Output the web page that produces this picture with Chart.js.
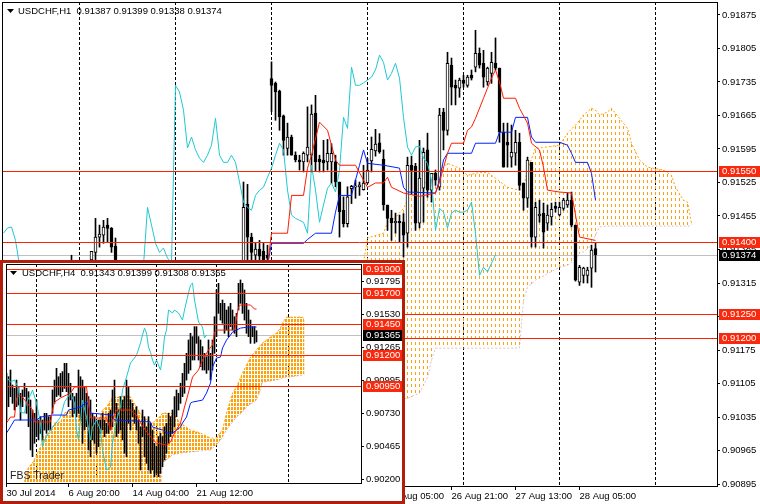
<!DOCTYPE html>
<html>
<head>
<meta charset="utf-8">
<title>USDCHF H1 / H4 Ichimoku</title>
<script src="https://cdn.jsdelivr.net/npm/chart.js@4.4.1/dist/chart.umd.min.js"></script>
<style>
  html, body { margin: 0; padding: 0; background: #fff; }
  #wrap { position: relative; width: 760px; height: 504px; overflow: hidden; }
  canvas { display: block; }
  #mainChart { position: absolute; left: 0; top: 0; }
  #inset { position: absolute; left: 0; top: 260px; width: 399px; height: 238px;
           border: 3px solid #b51d0b; background: #fff; }
</style>
</head>
<body>
<div id="wrap">
  <canvas id="mainChart" width="760" height="504"></canvas>
  <div id="inset"><canvas id="insetChart" width="399" height="238"></canvas></div>
</div>
<script>
// ---------- H1 main chart data ----------
const mainBarIdx = [17, 22, 23, 24, 25, 26, 27, 28,
  60, 61, 62, 63, 64, 65, 66, 67, 68, 69, 70, 71, 72, 73, 74, 75, 76, 77, 78, 79,
  80, 81, 82, 83, 84, 85, 86, 87, 88, 89, 90, 91, 92, 93, 94, 95, 96, 97, 98, 99,
  100, 101, 102, 103, 104, 105, 106, 107, 108, 109, 110, 111, 112, 113, 114, 115, 116, 117, 118, 119,
  120, 121, 122, 123, 124, 125, 126, 127, 128, 129, 130, 131, 132, 133, 134, 135, 136, 137, 138, 139,
  140, 141, 142, 143, 144, 145, 146, 147, 148];
const mainOpen = [0.91355, 0.91363, 0.91379, 0.91411, 0.91415, 0.91436, 0.91429, 0.91392,
  0.91330, 0.91480, 0.91411, 0.91373, 0.91386, 0.91381, 0.91373, 0.91742, 0.91732, 0.91716, 0.91664, 0.91596,
  0.91620, 0.91582, 0.91572, 0.91568, 0.91582, 0.91582, 0.91670, 0.91574, 0.91572, 0.91568,
  0.91568, 0.91568, 0.91526, 0.91467, 0.91439, 0.91512, 0.91515, 0.91516, 0.91510, 0.91524,
  0.91570, 0.91591, 0.91608, 0.91574, 0.91478, 0.91450, 0.91441, 0.91444, 0.91443, 0.91419,
  0.91561, 0.91559, 0.91440, 0.91513, 0.91593, 0.91509, 0.91544, 0.91515, 0.91672, 0.91634,
  0.91770, 0.91728, 0.91722, 0.91739, 0.91728, 0.91749, 0.91766, 0.91795, 0.91774, 0.91735,
  0.91753, 0.91774, 0.91764, 0.91630, 0.91609, 0.91578, 0.91586, 0.91609, 0.91524, 0.91492,
  0.91567, 0.91411, 0.91455, 0.91461, 0.91440, 0.91453, 0.91475, 0.91457, 0.91471, 0.91478,
  0.91488, 0.91436, 0.91317, 0.91331, 0.91331, 0.91346, 0.91387];
const mainHigh = [0.91373, 0.91381, 0.91450, 0.91436, 0.91446, 0.91450, 0.91431, 0.91409,
  0.91526, 0.91521, 0.91419, 0.91398, 0.91404, 0.91400, 0.91394, 0.91777, 0.91735, 0.91718, 0.91666, 0.91649,
  0.91624, 0.91589, 0.91582, 0.91589, 0.91683, 0.91687, 0.91707, 0.91582, 0.91613, 0.91615,
  0.91606, 0.91582, 0.91526, 0.91495, 0.91516, 0.91519, 0.91530, 0.91526, 0.91561, 0.91575,
  0.91620, 0.91636, 0.91627, 0.91593, 0.91478, 0.91467, 0.91461, 0.91457, 0.91460, 0.91578,
  0.91580, 0.91565, 0.91613, 0.91597, 0.91628, 0.91544, 0.91551, 0.91680, 0.91680, 0.91797,
  0.91785, 0.91739, 0.91743, 0.91749, 0.91749, 0.91760, 0.91843, 0.91806, 0.91801, 0.91766,
  0.91797, 0.91827, 0.91764, 0.91649, 0.91649, 0.91645, 0.91634, 0.91628, 0.91524, 0.91578,
  0.91567, 0.91484, 0.91488, 0.91482, 0.91478, 0.91482, 0.91484, 0.91484, 0.91492, 0.91503,
  0.91505, 0.91436, 0.91352, 0.91348, 0.91348, 0.91394, 0.91399];
const mainLow = [0.91330, 0.91340, 0.91358, 0.91390, 0.91398, 0.91400, 0.91379, 0.91330,
  0.91320, 0.91350, 0.91355, 0.91355, 0.91355, 0.91345, 0.91350, 0.91673, 0.91655, 0.91634, 0.91582, 0.91582,
  0.91582, 0.91568, 0.91551, 0.91547, 0.91568, 0.91547, 0.91549, 0.91547, 0.91547, 0.91551,
  0.91523, 0.91516, 0.91411, 0.91432, 0.91432, 0.91481, 0.91492, 0.91498, 0.91509, 0.91523,
  0.91547, 0.91580, 0.91586, 0.91467, 0.91425, 0.91404, 0.91419, 0.91401, 0.91369, 0.91390,
  0.91500, 0.91425, 0.91430, 0.91442, 0.91494, 0.91484, 0.91519, 0.91509, 0.91593, 0.91624,
  0.91687, 0.91687, 0.91703, 0.91724, 0.91724, 0.91739, 0.91756, 0.91764, 0.91724, 0.91728,
  0.91732, 0.91760, 0.91609, 0.91557, 0.91557, 0.91557, 0.91561, 0.91509, 0.91467, 0.91473,
  0.91390, 0.91390, 0.91442, 0.91388, 0.91425, 0.91436, 0.91463, 0.91455, 0.91467, 0.91473,
  0.91432, 0.91319, 0.91310, 0.91315, 0.91315, 0.91306, 0.91338];
const mainClose = [0.91350, 0.91381, 0.91411, 0.91417, 0.91432, 0.91429, 0.91390, 0.91350,
  0.91473, 0.91411, 0.91379, 0.91386, 0.91371, 0.91360, 0.91367, 0.91728, 0.91714, 0.91662, 0.91613, 0.91620,
  0.91582, 0.91572, 0.91568, 0.91586, 0.91599, 0.91668, 0.91568, 0.91568, 0.91566, 0.91586,
  0.91586, 0.91526, 0.91464, 0.91439, 0.91495, 0.91517, 0.91518, 0.91520, 0.91524, 0.91551,
  0.91594, 0.91605, 0.91589, 0.91478, 0.91450, 0.91441, 0.91444, 0.91441, 0.91415, 0.91561,
  0.91550, 0.91440, 0.91534, 0.91588, 0.91509, 0.91544, 0.91530, 0.91666, 0.91634, 0.91774,
  0.91724, 0.91722, 0.91739, 0.91732, 0.91745, 0.91743, 0.91795, 0.91770, 0.91745, 0.91764,
  0.91776, 0.91764, 0.91630, 0.91557, 0.91603, 0.91588, 0.91609, 0.91519, 0.91492, 0.91572,
  0.91411, 0.91473, 0.91459, 0.91421, 0.91457, 0.91469, 0.91471, 0.91473, 0.91488, 0.91488,
  0.91436, 0.91321, 0.91348, 0.91346, 0.91342, 0.91384, 0.91374];

// Ichimoku lines, [bar, price]
const mainTenkan = [[60, 0.91352], [66, 0.91352], [67, 0.91419], [71, 0.91419], [72, 0.91498], [75, 0.91498],
  [76, 0.91555], [77, 0.91582], [79, 0.91651], [81, 0.91634], [82, 0.91603], [83, 0.91572], [84, 0.91561],
  [88, 0.91561], [90, 0.91530], [91, 0.91515], [93, 0.91524], [95, 0.91524], [96, 0.91536], [97, 0.91515],
  [100, 0.91503], [104, 0.91496], [108, 0.91503], [109, 0.91526], [111, 0.91586], [112, 0.91607], [115, 0.91607],
  [116, 0.91634], [117, 0.91641], [118, 0.91659], [120, 0.91701], [121, 0.91722], [122, 0.91743], [123, 0.91760],
  [124, 0.91735], [125, 0.91701], [128, 0.91701], [129, 0.91680], [131, 0.91649], [132, 0.91607], [134, 0.91593],
  [135, 0.91557], [136, 0.91509], [139, 0.91505], [142, 0.91503], [143, 0.91457], [144, 0.91411], [148, 0.91404]];
const mainKijun = [[60, 0.91352], [66, 0.91352], [67, 0.91398], [75, 0.91398], [76, 0.91406], [78, 0.91419],
  [82, 0.91419], [83, 0.91463], [84, 0.91498], [87, 0.91498], [88, 0.91530], [89, 0.91561], [90, 0.91593],
  [91, 0.91565], [95, 0.91561], [99, 0.91555], [100, 0.91515], [101, 0.91505], [108, 0.91503], [109, 0.91530],
  [110, 0.91572], [111, 0.91586], [117, 0.91586], [118, 0.91607], [123, 0.91607], [124, 0.91630], [127, 0.91630],
  [128, 0.91661], [131, 0.91661], [132, 0.91620], [133, 0.91609], [139, 0.91609], [141, 0.91603], [142, 0.91586],
  [143, 0.91567], [146, 0.91567], [147, 0.91544], [148, 0.91488]];
const mainChikou = [[0, 0.91419], [1, 0.91430], [2, 0.91432], [3, 0.91404], [4, 0.91352], [35, 0.91352],
  [36, 0.91473], [37, 0.91436], [38, 0.91398], [39, 0.91379], [40, 0.91388], [41, 0.91367], [42, 0.91358],
  [43, 0.91728], [44, 0.91714], [45, 0.91676], [46, 0.91597], [47, 0.91620], [48, 0.91593], [49, 0.91576],
  [50, 0.91567], [51, 0.91582], [52, 0.91603], [53, 0.91659], [54, 0.91582], [55, 0.91567], [56, 0.91567],
  [57, 0.91582], [58, 0.91567], [59, 0.91526], [60, 0.91484], [61, 0.91473], [62, 0.91467], [63, 0.91498],
  [64, 0.91509], [65, 0.91515], [66, 0.91536], [67, 0.91555], [68, 0.91582], [69, 0.91607], [70, 0.91593],
  [71, 0.91509], [72, 0.91457], [73, 0.91450], [74, 0.91446], [75, 0.91442], [76, 0.91419], [77, 0.91561],
  [78, 0.91509], [79, 0.91442], [80, 0.91478], [81, 0.91513], [82, 0.91524], [83, 0.91505], [84, 0.91551],
  [85, 0.91661], [86, 0.91638], [87, 0.91766], [88, 0.91728], [89, 0.91728], [90, 0.91733], [91, 0.91739],
  [92, 0.91745], [93, 0.91760], [94, 0.91791], [95, 0.91776], [96, 0.91739], [97, 0.91753], [98, 0.91774],
  [99, 0.91743], [100, 0.91661], [101, 0.91599], [102, 0.91582], [103, 0.91599], [104, 0.91601], [105, 0.91576],
  [106, 0.91565], [107, 0.91530], [108, 0.91425], [109, 0.91471], [110, 0.91463], [111, 0.91430], [112, 0.91461],
  [113, 0.91467], [114, 0.91463], [115, 0.91463], [116, 0.91467], [117, 0.91484], [118, 0.91419], [119, 0.91331],
  [120, 0.91348], [121, 0.91338], [122, 0.91356], [123, 0.91374]];
// cloud: Senkou span A (upper) and B (lower) at the same bars
const mainCloudIdx = [90, 91, 95, 96, 98, 100, 101, 104, 106, 107, 108, 110, 111, 114, 116, 119, 121, 123, 126, 129,
  130, 131, 133, 134, 139, 141, 143, 144, 145, 147, 148, 149, 151, 152, 154, 156, 157, 159, 161, 165, 167, 168, 170, 171, 172];
const mainSpanA = [0.91358, 0.91409, 0.91419, 0.91442, 0.91452, 0.91471, 0.91488, 0.91509, 0.91530, 0.91536,
  0.91551, 0.91557, 0.91565, 0.91555, 0.91540, 0.91546, 0.91546, 0.91534, 0.91515, 0.91509,
  0.91515, 0.91551, 0.91597, 0.91597, 0.91603, 0.91628, 0.91645, 0.91655, 0.91666, 0.91680,
  0.91676, 0.91666, 0.91672, 0.91680, 0.91659, 0.91638, 0.91607, 0.91572, 0.91557, 0.91551,
  0.91540, 0.91515, 0.91488, 0.91484, 0.91440];
const mainSpanB = [0.91028, 0.91028, 0.91039, 0.91049, 0.91060, 0.91074, 0.91074, 0.91085, 0.91118, 0.91154,
  0.91179, 0.91179, 0.91179, 0.91179, 0.91179, 0.91179, 0.91179, 0.91179, 0.91179, 0.91179,
  0.91279, 0.91306, 0.91321, 0.91325, 0.91348, 0.91352, 0.91365, 0.91377, 0.91380, 0.91394,
  0.91415, 0.91432, 0.91434, 0.91434, 0.91434, 0.91434, 0.91434, 0.91434, 0.91434, 0.91434,
  0.91434, 0.91434, 0.91434, 0.91434, 0.91434];
const mainLevels = [0.9155, 0.9140, 0.9125, 0.9120];
const mainYTicks = [0.90895, 0.90965, 0.91035, 0.91105, 0.91175, 0.91245, 0.91315, 0.91385,
  0.91455, 0.91525, 0.91595, 0.91665, 0.91735, 0.91805, 0.91875];
const mainXTickIdx = [96, 112, 128, 144];
const mainXTickText = ['26 Aug 05:00', '26 Aug 21:00', '27 Aug 13:00', '28 Aug 05:00'];
const mainDayIdx = [19, 43, 67, 91, 115, 139, 163];

// ---------- H4 inset data ----------
const insetHigh = [0.91054, 0.91027, 0.91081, 0.90960, 0.90933, 0.91000, 0.90947, 0.90893, 0.90920, 0.90974,
  0.90933, 0.90906, 0.90839, 0.90758, 0.90731, 0.90839, 0.90677, 0.90704, 0.90677, 0.90731,
  0.90731, 0.90704, 0.90704, 0.90920, 0.91000, 0.91095, 0.91027, 0.91054, 0.91068, 0.91135,
  0.91135, 0.91054, 0.90974, 0.90893, 0.90866, 0.90893, 0.91081, 0.91027, 0.91000, 0.90947,
  0.90893, 0.90866, 0.90839, 0.90731, 0.90704, 0.90677, 0.90677, 0.90677, 0.90731, 0.90677,
  0.90650, 0.90731, 0.90758, 0.90920, 0.91000, 0.90812, 0.90758, 0.90866, 0.90839, 0.90866,
  0.91000, 0.90947, 0.90839, 0.90812, 0.90758, 0.90785, 0.90677, 0.90623, 0.90758, 0.90704,
  0.90623, 0.90704, 0.90650, 0.90596, 0.90489, 0.90462, 0.90543, 0.90569, 0.90543, 0.90623,
  0.90650, 0.90731, 0.90704, 0.90758, 0.90866, 0.90920, 0.90893, 0.90974, 0.91054, 0.91135,
  0.91216, 0.91324, 0.91378, 0.91351, 0.91432, 0.91432, 0.91351, 0.91324, 0.91270, 0.91216,
  0.91189, 0.91324, 0.91216, 0.91324, 0.91512, 0.91728, 0.91782, 0.91620, 0.91647, 0.91620,
  0.91566, 0.91593, 0.91620, 0.91566, 0.91512, 0.91539, 0.91782, 0.91809, 0.91782, 0.91728,
  0.91620, 0.91566, 0.91485, 0.91432, 0.91432, 0.91399];
const insetLow = [0.90677, 0.90785, 0.90866, 0.90812, 0.90758, 0.90785, 0.90798, 0.90677, 0.90785, 0.90866,
  0.90731, 0.90623, 0.90435, 0.90381, 0.90489, 0.90543, 0.90516, 0.90569, 0.90516, 0.90596,
  0.90569, 0.90596, 0.90596, 0.90731, 0.90812, 0.90866, 0.90879, 0.90866, 0.90906, 0.90933,
  0.90906, 0.90785, 0.90839, 0.90704, 0.90731, 0.90704, 0.90731, 0.90677, 0.90489, 0.90596,
  0.90623, 0.90435, 0.90381, 0.90516, 0.90489, 0.90408, 0.90462, 0.90569, 0.90596, 0.90543,
  0.90569, 0.90569, 0.90596, 0.90623, 0.90731, 0.90543, 0.90569, 0.90596, 0.90516, 0.90408,
  0.90381, 0.90650, 0.90596, 0.90704, 0.90650, 0.90596, 0.90489, 0.90273, 0.90543, 0.90381,
  0.90327, 0.90273, 0.90246, 0.90273, 0.90219, 0.90246, 0.90219, 0.90246, 0.90300, 0.90354,
  0.90408, 0.90489, 0.90543, 0.90569, 0.90623, 0.90704, 0.90758, 0.90812, 0.90866, 0.90893,
  0.91000, 0.91054, 0.91081, 0.91162, 0.91162, 0.91297, 0.91162, 0.91108, 0.91081, 0.91081,
  0.91054, 0.91081, 0.91000, 0.91081, 0.91216, 0.91351, 0.91539, 0.91485, 0.91459, 0.91378,
  0.91405, 0.91351, 0.91432, 0.91405, 0.91378, 0.91351, 0.91566, 0.91620, 0.91539, 0.91485,
  0.91378, 0.91351, 0.91297, 0.91351, 0.91297, 0.91308];
const insetLastOpen = 0.91343;
const insetLastClose = 0.91365;
const insetTenkan = [[0, 0.90653], [2, 0.90701], [4, 0.90701], [5, 0.90855], [7, 0.90879], [10, 0.90822],
  [13, 0.90758], [14, 0.90661], [22, 0.90661], [23, 0.90758], [24, 0.90822], [27, 0.90855], [32, 0.90895],
  [34, 0.90944], [40, 0.90944], [41, 0.90814], [42, 0.90693], [50, 0.90693], [52, 0.90596], [53, 0.90677],
  [55, 0.90758], [62, 0.90758], [65, 0.90717], [67, 0.90653], [72, 0.90539], [75, 0.90491], [80, 0.90475],
  [82, 0.90499], [84, 0.90572], [87, 0.90653], [89, 0.90782], [92, 0.90960], [93, 0.91024], [96, 0.91081],
  [98, 0.91162], [101, 0.91243], [103, 0.91283], [104, 0.91388], [105, 0.91404], [114, 0.91404], [115, 0.91501],
  [116, 0.91590], [117, 0.91607], [122, 0.91607], [124, 0.91574], [125, 0.91574]];
const insetKijun = [[0, 0.90572], [1, 0.90596], [4, 0.90677], [15, 0.90677], [17, 0.90701], [23, 0.90717],
  [30, 0.90717], [31, 0.90758], [37, 0.90782], [40, 0.90822], [41, 0.90798], [42, 0.90733], [53, 0.90717],
  [54, 0.90677], [65, 0.90669], [72, 0.90661], [73, 0.90620], [78, 0.90596], [80, 0.90572], [83, 0.90572],
  [87, 0.90620], [88, 0.90653], [90, 0.90701], [92, 0.90814], [93, 0.90822], [98, 0.90838], [100, 0.90895],
  [102, 0.90976], [103, 0.91105], [105, 0.91178], [107, 0.91186], [108, 0.91259], [110, 0.91323], [112, 0.91364],
  [113, 0.91388], [115, 0.91404], [117, 0.91420], [121, 0.91429], [125, 0.91429]];
const insetChikou = [[0, 0.91024], [2, 0.90984], [4, 0.91000], [6, 0.90935], [7, 0.90741], [9, 0.90733],
  [10, 0.90822], [12, 0.90879], [13, 0.90919], [15, 0.90814], [17, 0.90653], [18, 0.90459], [19, 0.90515],
  [22, 0.90596], [24, 0.90636], [27, 0.90701], [29, 0.90822], [32, 0.90895], [34, 0.90814], [35, 0.90596],
  [36, 0.90515], [37, 0.90677], [38, 0.90838], [40, 0.90701], [42, 0.90515], [43, 0.90620], [45, 0.90677],
  [47, 0.90596], [48, 0.90434], [50, 0.90273], [52, 0.90297], [53, 0.90491], [55, 0.90677], [57, 0.90782],
  [58, 0.90919], [60, 0.91024], [62, 0.91138], [65, 0.91200], [67, 0.91299], [68, 0.91364], [69, 0.91420],
  [70, 0.91380], [71, 0.91267], [72, 0.91226], [73, 0.91162], [74, 0.91121], [75, 0.91162], [77, 0.91081],
  [78, 0.91186], [79, 0.91348], [80, 0.91404], [81, 0.91566], [83, 0.91542], [84, 0.91566], [86, 0.91542],
  [88, 0.91485], [89, 0.91566], [91, 0.91704], [92, 0.91768], [93, 0.91784], [94, 0.91647], [96, 0.91469],
  [98, 0.91429], [99, 0.91340], [100, 0.91365]];
const insetCloudIdx = [0, 8, 11, 13, 17, 18, 22, 24, 27, 29, 32, 35, 38, 42, 45, 48, 50, 53, 57, 60,
  62, 65, 68, 73, 77, 78, 83, 87, 92, 97, 100, 102, 103, 105, 107, 108, 110, 113, 115, 118,
  120, 122, 125, 127, 128, 132, 135, 137, 138, 140, 142, 148, 149];
const insetSpanA = [0.90100, 0.90120, 0.90297, 0.90329, 0.90459, 0.90539, 0.90572, 0.90653, 0.90661, 0.90733,
  0.90758, 0.90758, 0.90733, 0.90653, 0.90620, 0.90758, 0.90782, 0.90863, 0.90863, 0.90879,
  0.90863, 0.90782, 0.90701, 0.90653, 0.90709, 0.90733, 0.90733, 0.90653, 0.90596, 0.90572,
  0.90547, 0.90531, 0.90531, 0.90531, 0.90580, 0.90596, 0.90733, 0.90895, 0.90944, 0.91057,
  0.91121, 0.91186, 0.91243, 0.91283, 0.91299, 0.91348, 0.91380, 0.91420, 0.91461, 0.91509,
  0.91509, 0.91509, 0.91485];
const insetSpanB = [0.90100, 0.90100, 0.90100, 0.90100, 0.90100, 0.90100, 0.90100, 0.90100, 0.90100, 0.90100,
  0.90100, 0.90100, 0.90100, 0.90100, 0.90100, 0.90100, 0.90100, 0.90100, 0.90100, 0.90100,
  0.90100, 0.90100, 0.90100, 0.90100, 0.90100, 0.90329, 0.90394, 0.90410, 0.90418, 0.90426,
  0.90434, 0.90434, 0.90450, 0.90475, 0.90515, 0.90539, 0.90596, 0.90661, 0.90701, 0.90741,
  0.90782, 0.90806, 0.90838, 0.90919, 0.90984, 0.90992, 0.91000, 0.91008, 0.91016, 0.91024,
  0.91024, 0.91041, 0.91041];
const insetLevels = [0.9190, 0.9170, 0.9145, 0.9120, 0.9095];
const insetYTicks = [0.90200, 0.90465, 0.90730, 0.90995, 0.91265, 0.91530, 0.91795];
const insetXTickIdx = [0, 31, 63, 95];
const insetXTickText = ['30 Jul 2014', '6 Aug 20:00', '14 Aug 04:00', '21 Aug 12:00'];
const insetWeekIdx = [15, 45, 75, 105, 141];

// ---------- styling ----------
const FAMILY = '"Liberation Sans", Arial, sans-serif';
const FONT = { family: FAMILY, size: 9.5 };
const FONT_CSS = '9.5px ' + FAMILY;
const LEVEL_LINE = '#ff2200';
const LEVEL_BOX = '#f8290d';
const TENKAN = '#ff1a00';
const KIJUN = '#0022ff';
const CHIKOU = '#1fc9d2';
const CLOUD = '#ffa10a';
const THISTLE = '#d8bfd8';

function pairs(list) {
  return list.map(p => ({ x: p[0], y: p[1] }));
}

function zipPts(idx, vals) {
  return idx.map((x, n) => ({ x: x, y: vals[n] }));
}

// dashed histogram look of the MT4 cloud
function dashPattern(canvasId, w, h, x0, dw, dh, color) {
  const tile = document.createElement('canvas');
  tile.width = w;
  tile.height = h;
  const g = tile.getContext('2d');
  g.fillStyle = color;
  g.fillRect(x0, 0, dw, dh);
  return document.getElementById(canvasId).getContext('2d').createPattern(tile, 'repeat');
}

function lineSet(points, color, order) {
  return { type: 'line', data: points, borderColor: color, borderWidth: 1, pointRadius: 0,
           tension: 0, fill: false, order: order };
}

function cloudSets(idx, a, b, pattern) {
  return [
    { type: 'line', data: zipPts(idx, a), borderColor: CLOUD, borderDash: [2, 2], borderWidth: 1,
      pointRadius: 0, tension: 0, fill: '+1', backgroundColor: pattern, order: 5 },
    { type: 'line', data: zipPts(idx, b), borderColor: THISTLE, borderDash: [2, 2], borderWidth: 1,
      pointRadius: 0, tension: 0, fill: false, order: 6 }
  ];
}

function overlay(o) {
  return {
    id: 'mt4overlay',
    beforeDatasetsDraw(chart) {
      const { ctx, chartArea: a, scales: { x, y } } = chart;
      ctx.save();
      ctx.lineWidth = 1;
      ctx.strokeStyle = '#000';
      ctx.setLineDash([3, 2]);
      o.grid.forEach(d => {
        const px = Math.floor(x.getPixelForValue(d)) + 0.5;
        ctx.beginPath(); ctx.moveTo(px, a.top); ctx.lineTo(px, a.bottom); ctx.stroke();
      });
      ctx.setLineDash([]);
      ctx.strokeStyle = '#c0c0c0';
      const cy = Math.round(y.getPixelForValue(o.current)) + 0.5;
      ctx.beginPath(); ctx.moveTo(a.left, cy); ctx.lineTo(a.right, cy); ctx.stroke();
      ctx.restore();
    },
    afterDatasetsDraw(chart) {
      const { ctx, chartArea: a, scales: { y } } = chart;
      ctx.save();
      ctx.strokeStyle = LEVEL_LINE;
      ctx.lineWidth = 1;
      o.levels.forEach(v => {
        const py = Math.round(y.getPixelForValue(v)) + 0.5;
        ctx.beginPath(); ctx.moveTo(a.left, py); ctx.lineTo(a.right, py); ctx.stroke();
      });
      ctx.restore();
    },
    afterDraw(chart) {
      const { ctx, chartArea: a, scales: { y }, width } = chart;
      ctx.save();
      ctx.strokeStyle = '#000';
      ctx.lineWidth = 1;
      ctx.strokeRect(a.left + 0.5, a.top + 0.5, a.right - a.left, a.bottom - a.top);

      ctx.font = FONT_CSS;
      ctx.textBaseline = 'middle';
      ctx.textAlign = 'left';
      const box = (v, bg) => {
        const py = Math.round(y.getPixelForValue(v));
        ctx.fillStyle = bg;
        ctx.fillRect(a.right + 2, py - 5, width - a.right - 2, 11);
        ctx.fillStyle = '#fff';
        ctx.fillText(v.toFixed(5), a.right + 5, py + 0.5);
      };
      o.levels.forEach(v => box(v, LEVEL_BOX));
      box(o.current, '#000');

      ctx.fillStyle = '#000';
      ctx.beginPath();
      ctx.moveTo(7, o.titleY - 2); ctx.lineTo(14, o.titleY - 2); ctx.lineTo(10.5, o.titleY + 2);
      ctx.closePath(); ctx.fill();
      ctx.fillText(o.title, o.titleX, o.titleY);

      if (o.brand) {
        ctx.font = '10.5px ' + FAMILY;
        ctx.fillStyle = '#222';
        ctx.fillText(o.brand, a.left + 4, a.bottom - 7);
      }
      ctx.restore();
    }
  };
}

function buildChart(id, o) {
  return new Chart(document.getElementById(id), {
    type: 'bar',
    data: { datasets: o.datasets },
    options: {
      responsive: false,
      animation: false,
      devicePixelRatio: 1,
      events: [],
      layout: { autoPadding: false, padding: o.padding },
      plugins: { legend: { display: false }, tooltip: { enabled: false } },
      scales: {
        x: {
          type: 'linear', position: 'bottom', min: o.xMin, max: o.xMax, offset: false,
          grid: { drawOnChartArea: false, drawTicks: true, tickLength: 4, color: '#000', offset: false },
          border: { display: false },
          ticks: { autoSkip: false, maxRotation: 0, align: 'start', color: '#000', font: FONT, padding: 1,
                   callback: (v, n) => o.xText[n] },
          afterBuildTicks: s => { s.ticks = o.xTicks.map(v => ({ value: v })); },
          afterFit: s => { s.height = 18; s.paddingLeft = 0; s.paddingRight = 0; }
        },
        y: {
          type: 'linear', position: 'right', min: o.yMin, max: o.yMax,
          grid: { drawOnChartArea: false, drawTicks: true, tickLength: 3, color: '#000' },
          border: { display: false },
          ticks: { color: '#000', font: FONT, padding: 2, crossAlign: 'near', callback: v => v.toFixed(5) },
          afterBuildTicks: s => { s.ticks = o.yTicks.map(v => ({ value: v })); },
          afterFit: s => { s.width = o.yAxisW; s.paddingTop = 0; s.paddingBottom = 0; }
        }
      }
    },
    plugins: [overlay(o)]
  });
}

// ---------- main H1 chart ----------
const last = mainBarIdx.length - 1;
const mainCandleBodies = mainBarIdx.map((x, n) => ({ x: x, y: [mainOpen[n], mainClose[n]] }));
const mainCandleWicks = mainBarIdx.map((x, n) => ({ x: x, y: [mainLow[n], mainHigh[n]] }));

buildChart('mainChart', {
  padding: { top: 2, left: 2, right: 0, bottom: 0 },
  xMin: -0.375, xMax: 178.375,
  yMin: 0.90891, yMax: 0.91902,
  yAxisW: 43,
  xTicks: mainXTickIdx, xText: mainXTickText,
  yTicks: mainYTicks,
  grid: mainDayIdx,
  levels: mainLevels,
  current: mainClose[last],
  title: 'USDCHF,H1  ' + [mainOpen[last], mainHigh[last], mainLow[last], mainClose[last]].map(v => v.toFixed(5)).join(' '),
  titleX: 18, titleY: 11,
  datasets: [
    lineSet(pairs(mainTenkan), TENKAN, 0),
    lineSet(pairs(mainKijun), KIJUN, 0),
    lineSet(pairs(mainChikou), CHIKOU, 0),
    { type: 'bar', data: mainCandleBodies, barThickness: 3, grouped: false, minBarLength: 1,
      borderWidth: 1, borderSkipped: false, borderColor: '#000',
      backgroundColor: c => (mainClose[c.dataIndex] >= mainOpen[c.dataIndex] ? '#fff' : '#000'), order: 1 },
    { type: 'bar', data: mainCandleWicks, barThickness: 1, grouped: false, backgroundColor: '#000',
      borderWidth: 0, order: 2 },
    ...cloudSets(mainCloudIdx, mainSpanA, mainSpanB, dashPattern('mainChart', 4, 6, 3, 1, 3, CLOUD))
  ]
});

// ---------- inset H4 chart ----------
const insetBars = insetHigh.map((h, k) => ({ x: k, y: [insetLow[k], h] }));
const lastK = insetHigh.length - 1;

buildChart('insetChart', {
  padding: { top: 1, left: 3, right: 0, bottom: 0 },
  xMin: -0.25, xMax: 177.25,
  yMin: 0.90168, yMax: 0.91938,
  yAxisW: 41,
  xTicks: insetXTickIdx, xText: insetXTickText,
  yTicks: insetYTicks,
  grid: insetWeekIdx,
  levels: insetLevels,
  current: insetLastClose,
  title: 'USDCHF,H4  ' + [insetLastOpen, insetHigh[lastK], insetLow[lastK], insetLastClose].map(v => v.toFixed(5)).join(' '),
  titleX: 19, titleY: 10,
  brand: 'FBS Trader',
  datasets: [
    lineSet(pairs(insetTenkan), TENKAN, 0),
    lineSet(pairs(insetKijun), KIJUN, 0),
    lineSet(pairs(insetChikou), CHIKOU, 0),
    { type: 'bar', data: insetBars, barThickness: 1, grouped: false, backgroundColor: '#000',
      borderWidth: 0, order: 1 },
    ...cloudSets(insetCloudIdx, insetSpanA, insetSpanB, dashPattern('insetChart', 3, 4, 0, 2, 3, CLOUD))
  ]
});
</script>
</body>
</html>
